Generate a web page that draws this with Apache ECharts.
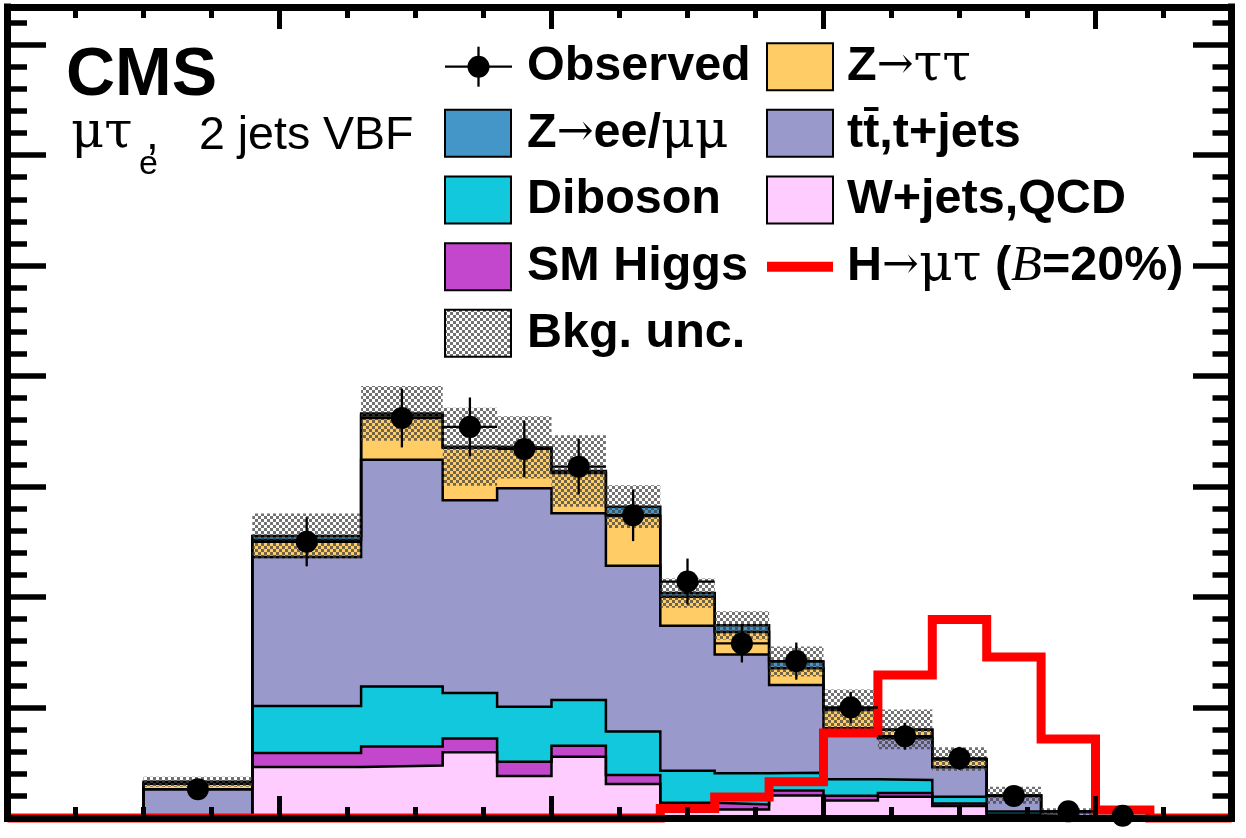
<!DOCTYPE html>
<html>
<head>
<meta charset="utf-8">
<script src="https://cdn.jsdelivr.net/npm/echarts@6/dist/echarts.min.js"></script>
<style>
html,body{margin:0;padding:0;background:#ffffff;}
#chart{width:1246px;height:838px;}
</style>
</head>
<body>
<div id="chart"></div>
<script>
// ---------------- data ----------------
const binEdges   = [50, 90, 130, 160, 180, 200, 220, 240, 260, 280, 300, 320, 340, 360, 380, 400, 420];
// stacked backgrounds, bottom to top
const wjetsQCD   = [0, 23.1, 23.8, 29.7, 19.0, 27.7, 15.4, 5.9, 3.8, 10.2, 7.9, 9.6, 5.4, 1.2, 0.4, 0];
const smHiggs    = [0, 6.3, 8.6, 6.3, 6.5, 5.0, 4.1, 1.0, 2.3, 2.2, 2.2, 1.7, 1.2, 0.4, 0, 0];
const diboson    = [0, 21.3, 27.1, 20.6, 24.9, 20.7, 19.6, 14.5, 14.1, 8.1, 7.4, 5.9, 3.0, 1.3, 0.4, 0];
const ttbarTop   = [13.0, 67.4, 102.6, 87.2, 98.8, 84.5, 75.0, 65.6, 53.8, 39.7, 23.1, 18.9, 13.4, 7.0, 1.8, 0.3];
const zTauTau    = [2.5, 7.7, 20.0, 23.8, 18.0, 18.2, 22.6, 13.1, 10.2, 7.6, 8.3, 3.8, 3.5, 0.3, 0.3, 0];
const zEEMuMu    = [0.9, 1.8, 1.0, 0.4, 0.5, 0.9, 4.2, 1.7, 3.0, 3.0, 0.3, 0.2, 0.2, 0.1, 0, 0];
const bkgUnc     = [2.3, 10.2, 12.4, 17.7, 14.1, 16.2, 9.7, 6.6, 6.4, 6.8, 9.0, 9.0, 5.3, 3.8, 1.5, 0];
const observed   = [13, 125, 181, 177, 167, 159, 137, 107, 79, 71, 50, 37, 27, 10, 3, 1];
const observedErr= [3.6, 11.1, 13.3, 13.3, 12.8, 12.6, 11.7, 10.4, 8.6, 8.4, 7.1, 6.1, 5.2, 3.2, 1.7, 1.0];
const signalHmt  = [0, 0, 0, 0, 0, 0, 0, 4.3, 9.5, 16.4, 38.5, 64.7, 89.8, 72.9, 35.7, 3.6];
// axis ranges / tick steps (no tick labels are shown in the reference)
const xRange = [0, 450];
const yRange = [0, 367];
const xTickMajor = 100, xTickMinor = 25;
const yTickMajor = 50,  yTickMinor = 10;

// ---------------- helpers ----------------
const SANS = '"Liberation Sans", Arial, Helvetica, sans-serif';
const SERIF = '"DejaVu Serif", "Liberation Serif", serif';
const TIMES = '"Liberation Serif", "Times New Roman", serif';

// checker pattern for the background uncertainty band
const pat = document.createElement('canvas');
pat.width = 6; pat.height = 6;
(function () {
  const c = pat.getContext('2d');
  c.fillStyle = 'rgba(60,60,60,0.72)';
  c.fillRect(0, 0, 3, 3);
  c.fillRect(3, 3, 3, 3);
})();
const hatch = { image: pat, repeat: 'repeat' };

const components = [
  { name: 'W+jets,QCD', vals: wjetsQCD, color: '#FFCCFF' },
  { name: 'SM Higgs',   vals: smHiggs,  color: '#C247CC' },
  { name: 'Diboson',    vals: diboson,  color: '#12C8DC' },
  { name: 'tt,t+jets',  vals: ttbarTop, color: '#9999CC' },
  { name: 'Z->tautau',  vals: zTauTau,  color: '#FFCC66' },
  { name: 'Z->ee/mumu', vals: zEEMuMu,  color: '#4496C8' }
];

// cumulative histograms (ROOT THStack style): each filled from zero, top-most drawn first
const running = binEdges.slice(1).map(() => 0);
const cumul = components.map(c => {
  c.vals.forEach((v, i) => { running[i] += v; });
  return running.slice();
});
const totals = running.slice();

function stepPoints(vals) {
  const pts = [[binEdges[0], 0]];
  vals.forEach((v, i) => pts.push([binEdges[i], v]));
  pts.push([binEdges[binEdges.length - 1], 0]);
  return pts;
}

const series = [];
for (let k = components.length - 1; k >= 0; k--) {
  series.push({
    type: 'line', name: components[k].name, xAxisIndex: 0, yAxisIndex: 0,
    data: stepPoints(cumul[k]), step: 'end', symbol: 'none', z: 2, clip: false, silent: true,
    lineStyle: { color: '#000', width: 2.5, join: 'miter' },
    areaStyle: { color: components[k].color, opacity: 1, origin: 'start' }
  });
}

// background uncertainty band
series.push({
  type: 'custom', name: 'Bkg. unc.', xAxisIndex: 0, yAxisIndex: 0,
  encode: { x: [0, 1], y: [2, 3] }, z: 3, clip: false, silent: true,
  data: totals.map((t, i) => [binEdges[i], binEdges[i + 1], t - bkgUnc[i], t + bkgUnc[i]]),
  renderItem: function (params, api) {
    const lo = api.value(2), hi = api.value(3);
    if (hi - lo <= 0) return null;
    const p0 = api.coord([api.value(0), hi]);
    const p1 = api.coord([api.value(1), lo]);
    return {
      type: 'rect',
      shape: { x: p0[0], y: p0[1], width: p1[0] - p0[0], height: p1[1] - p0[1] },
      style: { fill: hatch }
    };
  }
});

// signal histogram as a step line over the full axis range
const sigPts = [[xRange[0], 0]];
signalHmt.forEach((v, i) => sigPts.push([binEdges[i], v]));
sigPts.push([binEdges[binEdges.length - 1], 0]);
sigPts.push([xRange[1], 0]);
series.push({
  type: 'line', name: 'H->mutau', xAxisIndex: 0, yAxisIndex: 0,
  data: sigPts, step: 'end', symbol: 'none', z: 4, clip: false, silent: true,
  lineStyle: { color: '#FF0000', width: 9, join: 'miter', cap: 'butt' }
});

// observed data points with error bars
series.push({
  type: 'custom', name: 'Observed', xAxisIndex: 0, yAxisIndex: 0,
  encode: { x: [0, 1], y: 2 }, z: 5, clip: false, silent: true,
  data: observed.map((v, i) => [binEdges[i], binEdges[i + 1], v, observedErr[i]]),
  renderItem: function (params, api) {
    const x0 = api.value(0), x1 = api.value(1), y = api.value(2), e = api.value(3);
    const xc = (x0 + x1) / 2;
    const pc = api.coord([xc, y]);
    const pl = api.coord([x0, y]);
    const pr = api.coord([x1, y]);
    const pt = api.coord([xc, y + e]);
    const pb = api.coord([xc, Math.max(0, y - e)]);
    return {
      type: 'group',
      children: [
        { type: 'line', shape: { x1: pl[0], y1: pl[1], x2: pr[0], y2: pr[1] }, style: { stroke: '#000', lineWidth: 2.3 } },
        { type: 'line', shape: { x1: pt[0], y1: pt[1], x2: pb[0], y2: pb[1] }, style: { stroke: '#000', lineWidth: 2.3 } },
        { type: 'circle', shape: { cx: pc[0], cy: pc[1], r: 11 }, style: { fill: '#000' } }
      ]
    };
  }
});

// ---------------- axes (frame with inside ticks on all four sides) ----------------
function xAx(pos, interval, len, line) {
  return {
    type: 'value', position: pos, min: xRange[0], max: xRange[1], interval: interval, z: 10,
    axisLine: { show: line, onZero: false, lineStyle: { color: '#000', width: 7, cap: 'square' } },
    axisTick: { show: true, inside: true, length: len, lineStyle: { color: '#000', width: 5 } },
    axisLabel: { show: false }, splitLine: { show: false }, minorTick: { show: false }
  };
}
function yAx(pos, interval, len, line) {
  return {
    type: 'value', position: pos, min: yRange[0], max: yRange[1], interval: interval, z: 10,
    axisLine: { show: line, onZero: false, lineStyle: { color: '#000', width: 7, cap: 'square' } },
    axisTick: { show: true, inside: true, length: len, lineStyle: { color: '#000', width: 5.5 } },
    axisLabel: { show: false }, splitLine: { show: false }, minorTick: { show: false }
  };
}

// ---------------- legend & text (graphic) ----------------
const FS = 48.5;
const GFS = 52;
const rowsY = [66.7, 133.3, 200, 266.7, 333.3];
const g = [];
function legText(x, rowY, text, rich) {
  g.push({
    type: 'text', x: x, y: rowY, z: 100,
    style: {
      text: text, fill: '#000', verticalAlign: 'middle', align: 'left',
      fontFamily: SANS, fontWeight: 'bold', fontSize: FS, rich: rich || {}
    }
  });
}
function legBox(x, rowY, fill) {
  g.push({
    type: 'rect', z: 100,
    shape: { x: x, y: rowY - 23.5, width: 66, height: 47 },
    style: { fill: fill, stroke: '#000', lineWidth: 2 }
  });
}
const greekRich = {
  b: { fontFamily: SANS, fontWeight: 'bold', fontSize: FS },
  a: { fontFamily: SERIF, fontWeight: 'normal', fontSize: 44 },
  s: { fontFamily: SERIF, fontWeight: 'normal', fontSize: GFS },
  i: { fontFamily: TIMES, fontStyle: 'italic', fontWeight: 'normal', fontSize: FS + 2 }
};
const LX = 445, LTX = 527, RX = 767, RTX = 847;
// left column
g.push({ type: 'line', z: 100, shape: { x1: LX, y1: rowsY[0], x2: LX + 67, y2: rowsY[0] }, style: { stroke: '#000', lineWidth: 2.3 } });
g.push({ type: 'line', z: 100, shape: { x1: LX + 33.5, y1: rowsY[0] - 20, x2: LX + 33.5, y2: rowsY[0] + 20 }, style: { stroke: '#000', lineWidth: 2.3 } });
g.push({ type: 'circle', z: 101, shape: { cx: LX + 33.5, cy: rowsY[0], r: 11 }, style: { fill: '#000' } });
legText(LTX, rowsY[0], 'Observed');
legBox(LX, rowsY[1], '#4496C8');
legText(LTX, rowsY[1], '{b|Z}{a|→}{b|ee/}{s|μμ}', greekRich);
legBox(LX, rowsY[2], '#12C8DC');
legText(LTX, rowsY[2], 'Diboson');
legBox(LX, rowsY[3], '#C247CC');
legText(LTX, rowsY[3], 'SM Higgs');
legBox(LX, rowsY[4], hatch);
legText(LTX, rowsY[4], 'Bkg. unc.');
// right column
legBox(RX, rowsY[0], '#FFCC66');
legText(RTX, rowsY[0], '{b|Z}{a|→}{s|ττ}', greekRich);
legBox(RX, rowsY[1], '#9999CC');
legText(RTX, rowsY[1], 'tt\u0304,t+jets');
legBox(RX, rowsY[2], '#FFCCFF');
legText(RTX, rowsY[2], 'W+jets,QCD');
g.push({ type: 'line', z: 100, shape: { x1: RX, y1: rowsY[3], x2: RX + 66, y2: rowsY[3] }, style: { stroke: '#FF0000', lineWidth: 10 } });
legText(RTX, rowsY[3], '{b|H}{a|→}{s|μτ}{b| (}{i|B}{b|=20%)}', greekRich);

// CMS label and category text
g.push({ type: 'text', x: 66, y: 76, z: 100,
  style: { text: 'CMS', fill: '#000', fontFamily: SANS, fontWeight: 'bold', fontSize: 68, verticalAlign: 'middle' } });
g.push({ type: 'text', x: 71, y: 134, z: 100,
  style: { text: 'μτ', fill: '#000', fontFamily: SERIF, fontSize: 51, verticalAlign: 'middle' } });
g.push({ type: 'text', x: 139, y: 165, z: 100,
  style: { text: 'e', fill: '#000', fontFamily: SANS, fontSize: 34, verticalAlign: 'middle' } });
g.push({ type: 'text', x: 146, y: 136, z: 100,
  style: { text: ',', fill: '#000', fontFamily: SANS, fontSize: 46, verticalAlign: 'middle' } });
g.push({ type: 'text', x: 199, y: 136, z: 100,
  style: { text: '2 jets VBF', fill: '#000', fontFamily: SANS, fontSize: 46.5, verticalAlign: 'middle' } });

const chart = echarts.init(document.getElementById('chart'), null, { renderer: 'canvas' });
chart.setOption({
  animation: false,
  backgroundColor: '#ffffff',
  grid: { left: 7.5, right: 14.5, top: 7, bottom: 20, containLabel: false },
  xAxis: [
    xAx('bottom', xTickMajor, 22, true),
    xAx('bottom', xTickMinor, 11, false),
    xAx('top', xTickMajor, 22, true),
    xAx('top', xTickMinor, 11, false)
  ],
  yAxis: [
    yAx('left', yTickMajor, 38.5, true),
    yAx('left', yTickMinor, 19.5, false),
    yAx('right', yTickMajor, 38.5, true),
    yAx('right', yTickMinor, 19, false)
  ],
  series: series,
  graphic: { elements: g }
});
</script>
</body>
</html>
